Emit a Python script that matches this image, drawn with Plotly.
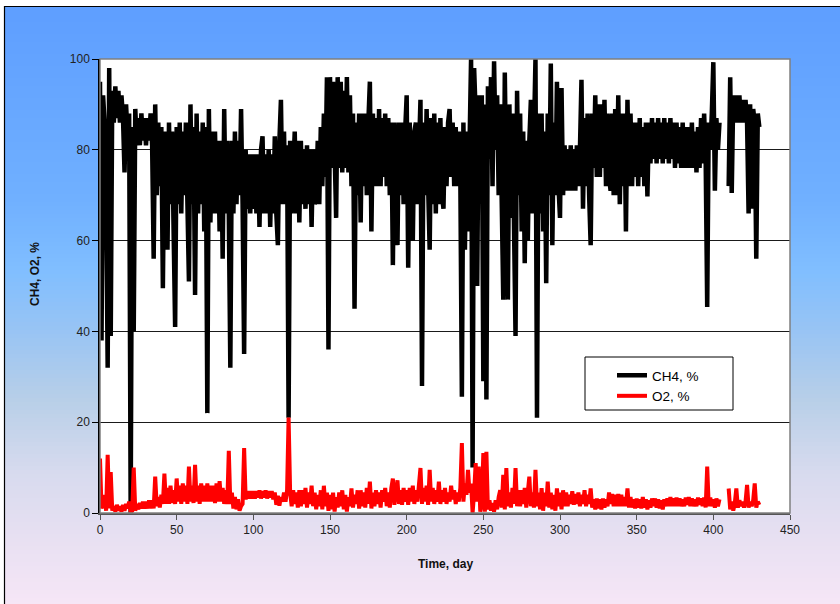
import plotly.graph_objects as go

# ---------------- data (1-day resolution) ----------------
days = list(range(0, 431))

ch4 = [
    # 0-9
    95, 38, 92, 86, 70, 32, 98, 39, 93, 86,
    # 10-19
    94, 87, 93, 86, 92, 87, 75, 90, 83, 88,
    # 20-29
    0, 85, 40, 89, 81, 87, 81, 88, 82, 87,
    # 30-39
    81, 87, 82, 88, 81, 56, 90, 70, 86, 72,
    # 40-49
    85, 49.5, 84, 70, 58, 86, 68, 84, 66, 41,
    # 50-59
    85, 68, 86, 66, 84, 70, 86, 66, 51, 90,
    # 60-69
    68, 85, 48, 88, 66, 84, 68, 86, 62, 85,
    # 70-79
    22, 89, 64, 84, 66, 84, 66, 82, 62, 82,
    # 80-89
    56, 89, 66, 82, 66, 32, 82, 66, 84, 68,
    # 90-99
    82, 70, 89, 68, 35, 80, 67, 79, 66, 79,
    # 100-109
    67, 79, 66, 79, 63, 80, 83, 66, 79, 66,
    # 110-119
    80, 63, 79, 66, 83, 66, 59, 82, 91, 68,
    # 120-129
    84, 68, 81, 21, 82, 66, 80, 84, 66, 82,
    # 130-139
    64, 82, 68, 80, 67, 81, 68, 80, 63, 80,
    # 140-149
    68, 70, 82, 68, 85, 72, 88, 74, 96, 36,
    # 150-159
    96, 76, 95, 78, 65, 96, 76, 95, 75, 93,
    # 160-169
    76, 96, 75, 92, 72, 88, 45, 86, 70, 88,
    # 170-179
    64, 88, 72, 88, 70, 86, 95, 62, 88, 72,
    # 180-189
    87, 72, 89, 72, 87, 74, 88, 72, 87, 70,
    # 190-199
    86, 54.6, 86, 72, 59, 86, 70, 86, 68, 84,
    # 200-209
    92, 54, 86, 70, 60, 84, 86, 68, 86, 91,
    # 210-219
    28, 86, 70, 89, 72, 58, 87, 68, 88, 66,
    # 220-229
    86, 68, 87, 70, 67, 85, 72, 86, 89, 74,
    # 230-239
    86, 72, 85, 72, 84, 74, 25.6, 86, 58, 84,
    # 240-249
    62, 80, 100, 10, 98, 88, 50, 92, 76, 92,
    # 250-259
    29, 90, 25, 94, 78, 96, 72, 99.5, 80, 92,
    # 260-269
    70, 90, 72, 47, 97, 70, 47, 90, 65, 88,
    # 270-279
    68, 39, 93, 70, 88, 62, 84, 55, 82, 60,
    # 280-289
    82, 91, 66, 84, 100, 21, 88, 66, 88, 62,
    # 290-299
    84, 50.6, 88, 70, 99, 59, 86, 70, 95, 72,
    # 300-309
    65, 93.6, 70, 81, 71, 80, 71, 81, 71, 80,
    # 310-319
    71, 81, 72, 80, 95.4, 67, 87, 72, 88, 70,
    # 320-329
    59, 88, 76, 92, 74, 90, 74, 90, 76, 91,
    # 330-339
    72, 88, 74, 71, 88, 70, 89, 70, 92, 68,
    # 340-349
    88, 72, 88, 62, 91, 72, 88, 72, 86, 74,
    # 350-359
    86, 72, 87, 74, 85, 72, 86, 69.7, 86, 77,
    # 360-369
    87, 78, 86, 77, 87, 78, 86, 77, 87, 78,
    # 370-379
    86, 77, 87, 78, 86, 76, 86, 77, 85, 76,
    # 380-389
    86, 76, 85, 76, 85, 76, 86, 76, 84, 75,
    # 390-399
    85, 76, 87, 77, 88, 78, 45.4, 86, 80, 88,
    # 400-409
    99.3, 71, 87, 80, 86, None, None, None, None, None,
    # 410-419
    72, 96, 70.5, 92, 86, 92, 86, 92, 86, 91,
    # 420-430
    86, 91, 86, 66, 90, 67, 89, 86, 56, 88, 85,
]

o2 = [
    # 0-9
    12, 1, 2, 4, 0.5, 12.8, 1, 9, 0.5, 1.5,
    # 10-19
    0.3, 1.8, 0.5, 1.5, 0.3, 1.8, 0.5, 2, 1, 2.5,
    # 20-29
    0.3, 0.5, 10, 0.5, 2, 0.8, 2.2, 1, 2.5, 1,
    # 30-39
    2.5, 1, 2.8, 1, 2.8, 1, 8, 1.5, 3.5, 1.2,
    # 40-49
    4, 2, 8.7, 2, 5.5, 2, 6, 2.2, 5, 2,
    # 50-59
    7.6, 2.5, 6, 2, 6.5, 2.5, 6, 2, 10.2, 2.5,
    # 60-69
    6, 2.2, 10.6, 2.5, 6, 2, 6.5, 2.5, 6, 2.5,
    # 70-79
    6.5, 2.5, 6, 2.5, 6, 2.2, 6.5, 2.5, 7, 2.5,
    # 80-89
    5.5, 2, 5, 2, 13.7, 2, 4.5, 1, 3.5, 0.8,
    # 90-99
    3, 0.5, 1.5, 2, 14.3, 3, 4.8, 3.2, 4.8, 3.2,
    # 100-109
    4.8, 3.2, 4.8, 3.4, 5, 3.2, 4.8, 3.4, 5, 3.2,
    # 110-119
    4.8, 3.4, 4.8, 3, 4.5, 1.8, 3.8, 1.6, 3.5, 2.5,
    # 120-129
    4.5, 2.5, 5, 21, 4.5, 1.5, 5, 2, 4.5, 1.2,
    # 130-139
    5, 1.5, 5, 2, 5.5, 1.2, 4.5, 2, 6, 1.5,
    # 140-149
    4.5, 0.8, 4, 1.5, 5, 0.8, 6, 1.5, 4.5, 0.5,
    # 150-159
    4, 0.8, 4.5, 0.3, 3.5, 1.2, 4.5, 1.5, 5, 0.8,
    # 160-169
    4, 0.3, 3.5, 1.5, 5.4, 1.2, 4, 2, 5, 1,
    # 170-179
    5, 1.5, 4.5, 1.2, 5.5, 2, 6.9, 1, 4.5, 1.5,
    # 180-189
    5, 2, 4.5, 1.2, 5, 2.5, 5.5, 1.5, 4.5, 1.2,
    # 190-199
    5.5, 7.6, 1.8, 5.5, 7.2, 2, 5, 1.8, 5.5, 2.5,
    # 200-209
    5, 1.8, 5.5, 2.5, 6, 2, 5, 2.5, 6, 9.9,
    # 210-219
    2, 5.5, 2.5, 6, 1.8, 9.5, 2.5, 5.5, 2, 5,
    # 220-229
    2.5, 6.9, 2, 5, 2.5, 5.5, 2, 4.5, 2.5, 6,
    # 230-239
    3, 5, 2, 4.5, 2.5, 5.5, 15.4, 2.5, 6.5, 4,
    # 240-249
    9.5, 4.5, 6.5, 0, 4.5, 11, 2.5, 10.2, 0.3, 2,
    # 250-259
    13.2, 0.3, 13.5, 0.8, 2.8, 0.5, 2.2, 0.3, 2.8, 0.8,
    # 260-269
    3.5, 5, 1.2, 8.4, 0.8, 9.9, 1.5, 4.5, 1.2, 5.5,
    # 270-279
    2, 9.9, 1.5, 5, 1.5, 5, 2, 5.5, 1.2, 4.5,
    # 280-289
    8, 1.5, 4.5, 1.2, 9.5, 1.5, 4.5, 0.8, 5.5, 0.5,
    # 290-299
    4.5, 1.5, 6.9, 1.2, 4.5, 0.8, 4, 0.5, 5.4, 1.5,
    # 300-309
    4.5, 0.8, 5, 1.5, 4.5, 1.5, 4, 2, 4.8, 1.8,
    # 310-319
    4.2, 2, 4.5, 1.5, 4, 2, 5, 1.5, 4, 2,
    # 320-329
    5.4, 1.2, 3, 0.8, 3.2, 1, 3, 0.8, 3.2, 1.2,
    # 330-339
    3, 1.5, 4.5, 2, 4.2, 1.5, 4, 1.5, 4.2, 1.5,
    # 340-349
    4, 1.5, 3.5, 1.5, 5.4, 1.2, 3.5, 1.2, 3, 1,
    # 350-359
    3.2, 1.2, 3, 1, 3.5, 1.2, 3, 0.8, 2.8, 1.2,
    # 360-369
    3.2, 1.5, 3.2, 1.2, 3, 1, 2.8, 0.8, 3, 1.5,
    # 370-379
    3.2, 1.5, 3.5, 1.5, 3.2, 1.5, 3.4, 1.5, 3.2, 1.5,
    # 380-389
    3, 1.5, 3.4, 1.8, 3.5, 1.5, 3.2, 1.5, 3, 1.5,
    # 390-399
    3.4, 1.8, 3.2, 1.5, 3.4, 1.2, 10.2, 1.5, 3.4, 1.5,
    # 400-409
    3, 1.2, 3.2, 1.5, 3, None, None, None, None, None,
    # 410-419
    5.4, 0.8, 2.5, 0.5, 2.2, 5.4, 1.2, 2.8, 1.5, 2.5,
    # 420-430
    1.2, 2.5, 6.2, 1.2, 2.5, 1.5, 2.8, 6.5, 1.2, 2.5, 1.8,
]

series_names = ["CH4, %", "O2, %"]
x_ticks = [0, 50, 100, 150, 200, 250, 300, 350, 400, 450]
y_ticks = [0, 20, 40, 60, 80, 100]

# ---------------- layout geometry (pixels) ----------------
W, H = 840, 604
L, R, T, B = 100, 790, 59, 513          # plot area in px
pw, ph = R - L, B - T


def px_x(px):
    return (px - L) / pw


def px_y(py):
    return (B - py) / ph


FONT = "Liberation Sans, Arial, sans-serif"

fig = go.Figure()
fig.add_trace(go.Scatter(x=days, y=ch4, name=series_names[0], mode="lines",
                         line=dict(color="#000000", width=4.5), connectgaps=False))
fig.add_trace(go.Scatter(x=days, y=o2, name=series_names[1], mode="lines",
                         line=dict(color="#FF0000", width=4), connectgaps=False))

# ---------------- gradient background made of thin bands ----------------
stops = [(6, (94, 158, 255)), (200, (112, 176, 255)), (270, (128, 190, 255)),
         (330, (152, 196, 244)), (400, (184, 207, 232)), (470, (214, 218, 238)),
         (540, (232, 224, 242)), (604, (246, 230, 246))]


def color_at(py):
    for (y0, c0), (y1, c1) in zip(stops[:-1], stops[1:]):
        if y0 <= py <= y1:
            t = (py - y0) / (y1 - y0)
            return "rgb(%d,%d,%d)" % tuple(round(a + (b - a) * t) for a, b in zip(c0, c1))
    return "rgb(%d,%d,%d)" % stops[-1][1]


shapes = []
band = 4
py = 6
while py < H:
    shapes.append(dict(type="rect", xref="paper", yref="paper", layer="below",
                       x0=px_x(4), x1=px_x(W + 2), y0=px_y(py), y1=px_y(min(py + band + 0.6, H + 2)),
                       line=dict(width=0), fillcolor=color_at(py + band / 2)))
    py += band

# outer frame (left and top edges visible)
shapes.append(dict(type="line", xref="paper", yref="paper", layer="below",
                   x0=px_x(4.5), x1=px_x(4.5), y0=px_y(6), y1=px_y(H + 2),
                   line=dict(color="#000000", width=1.2)))
shapes.append(dict(type="line", xref="paper", yref="paper", layer="below",
                   x0=px_x(4.5), x1=px_x(W + 2), y0=px_y(6.5), y1=px_y(6.5),
                   line=dict(color="#000000", width=1.2)))

# white plot area
shapes.append(dict(type="rect", xref="x domain", yref="y domain", layer="below",
                   x0=0, x1=1, y0=0, y1=1, line=dict(width=0), fillcolor="white"))
# grey plot-area border (top / right)
shapes.append(dict(type="rect", xref="x domain", yref="y domain", layer="above",
                   x0=0, x1=1, y0=0, y1=1, line=dict(color="#808080", width=1.5),
                   fillcolor="rgba(0,0,0,0)"))

# legend box
shapes.append(dict(type="rect", xref="paper", yref="paper", layer="above",
                   x0=px_x(585), x1=px_x(733), y0=px_y(357), y1=px_y(410),
                   line=dict(color="#000000", width=1), fillcolor="white"))

fig.update_layout(
    width=W, height=H,
    margin=dict(l=L, r=W - R, t=T, b=H - B, pad=0),
    paper_bgcolor="white",
    plot_bgcolor="rgba(0,0,0,0)",
    shapes=shapes,
    showlegend=True,
    legend=dict(x=px_x(612), y=px_y(360), xanchor="left", yanchor="top",
                bgcolor="rgba(0,0,0,0)", borderwidth=0,
                font=dict(family=FONT, size=13.5, color="#000000"),
                tracegroupgap=2, itemwidth=30),
    font=dict(family=FONT, size=12, color="#222222"),
    xaxis=dict(range=[0, 450], tickvals=x_ticks, ticks="outside", ticklen=5,
               tickcolor="#555555", showgrid=False, zeroline=False,
               showline=True, linecolor="#555555", linewidth=1.5,
               tickfont=dict(family=FONT, size=12, color="#222222")),
    yaxis=dict(range=[0, 100], tickvals=y_ticks, ticks="outside", ticklen=6,
               tickcolor="#000000", showgrid=True, gridcolor="#1a1a1a", gridwidth=1,
               zeroline=False, showline=True, linecolor="#000000", linewidth=1.5,
               tickfont=dict(family=FONT, size=12, color="#222222")),
    annotations=[
        dict(text="<b>Time, day</b>", xref="paper", yref="paper",
             x=px_x(445), y=px_y(573), showarrow=False,
             font=dict(family=FONT, size=12, color="#111111")),
        dict(text="<b>CH4, O2, %</b>", xref="paper", yref="paper",
             x=px_x(35), y=px_y(274), showarrow=False, textangle=-90,
             xanchor="center", yanchor="middle",
             font=dict(family=FONT, size=12, color="#111111")),
    ],
)

fig.write_html("out.html", config={"displayModeBar": False},
               post_script="document.body.style.margin='0';")
